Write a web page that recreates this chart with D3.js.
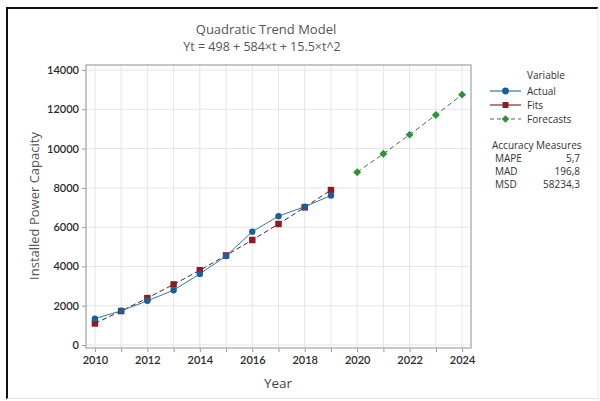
<!DOCTYPE html>
<html lang="en">
<head>
  <meta charset="UTF-8">
  <script src="https://cdn.jsdelivr.net/npm/d3@7"></script>
  <title>Quadratic Trend Model</title>
  <style>
    body { margin: 0; background: #fff; }
    text { font-family: "Open Sans", "Noto Sans", sans-serif; }
    .tick text { font-size: 11px; fill: #2a2a2a; font-family: Lato, "Open Sans", sans-serif; font-weight: 600; }
    .grid line { stroke: #e4e4e4; }
  </style>
</head>
<body>
  <script>
    // data
    const years = [2010, 2011, 2012, 2013, 2014, 2015, 2016, 2017, 2018, 2019];
    const actual = [1340, 1740, 2250, 2790, 3620, 4530, 5770, 6560, 7040, 7610];
    const fits = [1097.5, 1728, 2389.5, 3082, 3805.5, 4560, 5345.5, 6162, 7009.5, 7888];
    const forecastYears = [2020, 2021, 2022, 2023, 2024];
    const forecasts = [8797.5, 9738, 10709.5, 11712, 12745.5];
    const xTicks = [2010, 2012, 2014, 2016, 2018, 2020, 2022, 2024];
    const yTicks = [0, 2000, 4000, 6000, 8000, 10000, 12000, 14000];
    const measures = [["MAPE", "5,7"], ["MAD", "196,8"], ["MSD", "58234,3"]];

    const W = 600, H = 401;
    const plot = { left: 86, right: 471, top: 65, bottom: 348 };

    const svg = d3.select('body').append('svg')
      .attr('width', W)
      .attr('height', H);

    // outer frame
    svg.append('line').attr('x1', 7).attr('y1', 8).attr('x2', 7).attr('y2', 399)
      .attr('stroke', '#111').attr('stroke-width', 2);
    svg.append('line').attr('x1', 6).attr('y1', 8).attr('x2', 598).attr('y2', 8)
      .attr('stroke', '#111').attr('stroke-width', 2);
    svg.append('line').attr('x1', 598).attr('y1', 8).attr('x2', 598).attr('y2', 399)
      .attr('stroke', '#e4e4e4').attr('stroke-width', 1);
    svg.append('line').attr('x1', 7).attr('y1', 398.5).attr('x2', 598).attr('y2', 398.5)
      .attr('stroke', '#e4e4e4').attr('stroke-width', 1);

    const x = d3.scaleLinear().domain([2009.66, 2024.34]).range([plot.left, plot.right]);
    const y = d3.scaleLinear().domain([-153, 14255]).range([plot.bottom, plot.top]);

    // grid
    const allYears = d3.range(2010, 2025);
    svg.append('g').attr('class', 'grid')
      .selectAll('line').data(allYears).enter().append('line')
      .attr('x1', d => x(d)).attr('x2', d => x(d))
      .attr('y1', plot.top).attr('y2', plot.bottom);
    svg.append('g').attr('class', 'grid')
      .selectAll('line').data(yTicks).enter().append('line')
      .attr('x1', plot.left).attr('x2', plot.right)
      .attr('y1', d => y(d)).attr('y2', d => y(d));

    // axes
    const xAxis = svg.append('g')
      .attr('transform', `translate(0,${plot.bottom})`)
      .call(d3.axisBottom(x).tickValues(allYears).tickSize(4).tickPadding(4)
        .tickFormat(d => xTicks.includes(d) ? d : ''));
    const yAxis = svg.append('g')
      .attr('transform', `translate(${plot.left},0)`)
      .call(d3.axisLeft(y).tickValues(yTicks).tickSize(4).tickPadding(3).tickFormat(d3.format('d')));
    [xAxis, yAxis].forEach(a => {
      a.select('.domain').remove();
      a.selectAll('.tick line').attr('stroke', '#999');
    });

    // plot border
    svg.append('rect')
      .attr('x', plot.left).attr('y', plot.top)
      .attr('width', plot.right - plot.left).attr('height', plot.bottom - plot.top)
      .attr('fill', 'none').attr('stroke', '#b4b4b4').attr('stroke-width', 1.5);

    const line = d3.line().x(d => x(d[0])).y(d => y(d[1]));
    const actualPts = years.map((yr, i) => [yr, actual[i]]);
    const fitPts = years.map((yr, i) => [yr, fits[i]]);
    const fcPts = forecastYears.map((yr, i) => [yr, forecasts[i]]);

    const blue = '#1d5e97', red = '#8a1c25', green = '#2f8f3c';

    // fits line
    svg.append('path').datum(fitPts).attr('d', line)
      .attr('fill', 'none').attr('stroke', '#4a2030').attr('stroke-width', 1)
      .attr('stroke-dasharray', '5,3');
    // forecast line
    svg.append('path').datum(fcPts).attr('d', line)
      .attr('fill', 'none').attr('stroke', '#4e6a52').attr('stroke-width', 1)
      .attr('stroke-dasharray', '5,3');
    // actual line
    svg.append('path').datum(actualPts).attr('d', line)
      .attr('fill', 'none').attr('stroke', '#2f77a0').attr('stroke-width', 1);

    const sym = d3.symbol();
    svg.selectAll('path.fit').data(fitPts).enter().append('path').attr('class', 'fit')
      .attr('d', sym.type(d3.symbolSquare).size(42)())
      .attr('transform', d => `translate(${x(d[0])},${y(d[1])})`)
      .attr('fill', red);
    svg.selectAll('circle.act').data(actualPts).enter().append('circle').attr('class', 'act')
      .attr('cx', d => x(d[0])).attr('cy', d => y(d[1])).attr('r', 3.2)
      .attr('fill', blue);
    svg.selectAll('path.fc').data(fcPts).enter().append('path').attr('class', 'fc')
      .attr('d', d3.symbol().type(d3.symbolDiamond2).size(40)())
      .attr('transform', d => `translate(${x(d[0])},${y(d[1])})`)
      .attr('fill', green);

    // titles
    svg.append('text').attr('x', 266).attr('y', 34).attr('text-anchor', 'middle')
      .attr('font-size', 13).attr('fill', '#555').text('Quadratic Trend Model');
    svg.append('text').attr('x', 262).attr('y', 51).attr('text-anchor', 'middle')
      .attr('font-size', 12.5).attr('fill', '#555').text('Yt = 498 + 584×t + 15.5×t^2');
    svg.append('text').attr('x', 278).attr('y', 388).attr('text-anchor', 'middle')
      .attr('font-size', 13.5).attr('fill', '#444').text('Year');
    svg.append('text').attr('transform', 'translate(39,206) rotate(-90)')
      .attr('text-anchor', 'middle').attr('font-size', 13).attr('fill', '#555')
      .text('Installed Power Capacity');

    // legend
    const leg = svg.append('g').attr('font-size', 10).attr('fill', '#333');
    leg.append('text').attr('x', 527).attr('y', 79).attr('fill', '#333').text('Variable');
    const items = [
      { name: 'Actual', color: '#2f77a0', mark: 'circle', fill: blue, dash: null },
      { name: 'Fits', color: '#7a2a30', mark: 'square', fill: red, dash: null },
      { name: 'Forecasts', color: '#4e6a52', mark: 'diamond', fill: green, dash: '4,3' }
    ];
    items.forEach((it, i) => {
      const cy = 91 + i * 14;
      leg.append('line').attr('x1', 490).attr('x2', 521).attr('y1', cy).attr('y2', cy)
        .attr('stroke', it.color).attr('stroke-width', 1.2)
        .attr('stroke-dasharray', it.dash);
      const t = it.mark === 'circle' ? d3.symbolCircle : it.mark === 'square' ? d3.symbolSquare : d3.symbolDiamond2;
      leg.append('path').attr('d', d3.symbol().type(t).size(36)())
        .attr('transform', `translate(505.5,${cy})`).attr('fill', it.fill);
      leg.append('text').attr('x', 527).attr('y', cy + 3.5).attr('fill', '#333').text(it.name);
    });
    leg.append('text').attr('x', 492).attr('y', 149).attr('fill', '#333').text('Accuracy Measures');
    measures.forEach((m, i) => {
      const yy = 162 + i * 13;
      leg.append('text').attr('x', 495).attr('y', yy).attr('fill', '#333').text(m[0]);
      leg.append('text').attr('x', 580).attr('y', yy).attr('text-anchor', 'end')
        .attr('fill', '#333').text(m[1]);
    });
  </script>
</body>
</html>
